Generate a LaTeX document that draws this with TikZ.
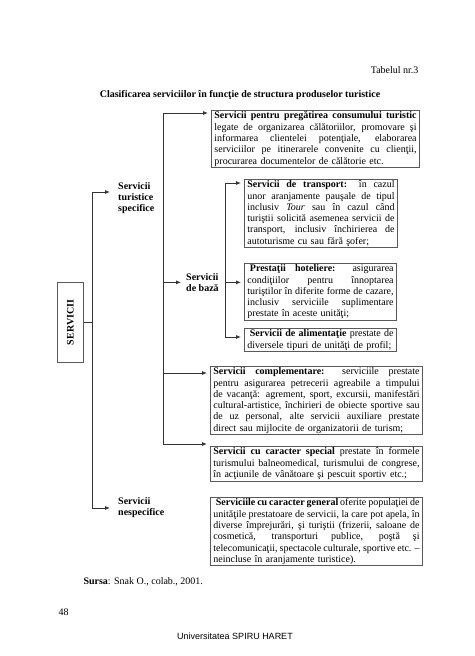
\documentclass[tikz,border=0pt]{standalone}
\usepackage{fontspec}
\setmainfont{Liberation Serif}
\newfontfamily\arialfont{Liberation Sans}
\usetikzlibrary{arrows.meta}
\newcommand\jline[1]{\leavevmode\hbox to\hsize{\spaceskip=0pt\xspaceskip=0pt #1}}
\begin{document}
\begin{tikzpicture}[x=1pt,y=-1pt,
  infobox/.style={draw=black!65, line width=0.85pt, inner xsep=3pt, inner ysep=1.4pt,
    anchor=north west, align=left, text width=#1, font=\fontsize{10}{11.3}\selectfont},
  lbl/.style={font=\fontsize{10}{11.3}\selectfont\bfseries, align=left, anchor=north west, inner sep=1pt},
  conn/.style={draw=black!80, line width=0.85pt},
  arr/.style={conn, -{Latex[length=5pt,width=4pt]}, shorten >=#1},
  arr/.default=3pt]

\useasboundingbox[fill=white] (0,0) rectangle (474,656);

% headings
\node[anchor=base east, font=\fontsize{10}{12}\selectfont] (tab) at (422,73) {Tabelul nr.3};
\node[anchor=base, font=\fontsize{10}{12}\selectfont\bfseries] (title) at (240,97)
  {Clasificarea serviciilor în funcţie de structura produselor turistice};

% root
\node[draw=black!65, line width=0.85pt, anchor=north west, minimum width=26pt, minimum height=80pt, inner sep=0pt] (serv) at (57,282) {};
\node[rotate=90, font=\fontsize{10}{12}\selectfont\bfseries] (servt) at (serv.center) {SERVICII};

% labels
\node[lbl] (spec) at (117,181) {Servicii\\turistice\\specifice};
\node[lbl] (baza) at (185,272) {Servicii\\de bază};
\node[lbl] (nesp) at (117,496) {Servicii\\nespecifice};

% boxes
\node[infobox=202.2pt] (b1) at (211,110) {%
\jline{\textbf{Servicii pentru pregătirea consumului turistic}}\\
\jline{legate de organizarea călătoriilor, promovare şi}\\
\jline{informarea clientelei potenţiale, elaborarea}\\
\jline{serviciilor pe itinerarele convenite cu clienţii,}\\
procurarea documentelor de călătorie etc.};

\node[infobox=147.2pt] (b2) at (244,179) {%
\jline{\textbf{Servicii de transport:} în cazul}\\
\jline{unor aranjamente pauşale de tipul}\\
\jline{inclusiv \textit{Tour} sau în cazul când}\\
\jline{turiştii solicită asemenea servicii de}\\
\jline{transport, inclusiv închirierea de}\\
autoturisme cu sau fără şofer;};

\node[infobox=146.2pt] (b3) at (244,263) {%
\jline{\hspace*{2.5pt}\textbf{Prestaţii hoteliere:} asigurarea}\\
\jline{condiţiilor pentru înnoptarea}\\
\jline{turiştilor în diferite forme de cazare,}\\
\jline{inclusiv serviciile suplimentare}\\
prestate în aceste unităţi;};

\node[infobox=146.2pt] (b4) at (244,328) {%
\jline{\hspace*{2.5pt}\textbf{Servicii de alimentaţie} prestate de}\\
diversele tipuri de unităţi de profil;};

\node[infobox=206.2pt] (b5) at (210,366) {%
\jline{\textbf{Servicii complementare:} serviciile prestate}\\
\jline{pentru asigurarea petrecerii agreabile a timpului}\\
\jline{de vacanţă: agrement, sport, excursii, manifestări}\\
\jline{cultural-artistice, închirieri de obiecte sportive sau}\\
\jline{de uz personal, alte servicii auxiliare prestate}\\
direct sau mijlocite de organizatorii de turism;};

\node[infobox=206.2pt] (b6) at (210,446) {%
\jline{\textbf{Servicii cu caracter special} prestate în formele}\\
\jline{turismului balneomedical, turismului de congrese,}\\
în acţiunile de vânătoare şi pescuit sportiv etc.;};

\node[infobox=206.2pt] (b7) at (210,497) {%
\jline{\hspace*{2.5pt}\textbf{Serviciile cu caracter general} oferite populaţiei de}\\
\jline{unităţile prestatoare de servicii, la care pot apela, în}\\
\jline{diverse împrejurări, şi turiştii (frizerii, saloane de}\\
\jline{cosmetică, transporturi publice, poştă şi}\\
\jline{telecomunicaţii, spectacole culturale, sportive etc. –}\\
neincluse în aranjamente turistice).};

% junction points
\coordinate (t1) at (92,192);
\coordinate (t2) at (92,508);
\coordinate (v2t) at (163,113);
\coordinate (v2c) at (163,373);
\coordinate (v2b) at (163,444);
\coordinate (v3t) at (225,183);
\coordinate (v3b) at (225,337);

% trunk
\draw[conn] (t1) -- (t2);
\draw[conn] (serv.east) -- (serv.east -| t1);
\draw[arr=7pt] (t1) -- (t1 -| spec.west);
\draw[arr=7pt] (t2) -- (t2 -| nesp.west);

% second level
\draw[conn] (v2t) -- (v2b);
\draw[arr] (v2t) -- (v2t -| b1.west);
\draw[arr=4pt] (baza.west -| v2t) -- (baza.west);
\draw[arr] (v2c) -- (v2c -| b5.west);
\draw[arr] (v2b) -- (v2b -| b6.west);

% third level
\draw[conn] (v3t) -- (v3b);
\draw[arr] (v3t) -- (v3t -| b2.west);
\draw[arr] (baza.west -| v3t) -- (baza.west -| b3.west);
\draw[arr] (v3b) -- (v3b -| b4.west);

% footer
\node[anchor=base west, font=\fontsize{10}{11.3}\selectfont] (src) at (80,584) {\textbf{Sursa}: Snak O., colab., 2001.};
\node[anchor=base west, font=\fontsize{10}{11.3}\selectfont] (pg) at (55,615) {48};
\node[anchor=base, font=\arialfont\fontsize{9}{11}\selectfont] (univ) at (235,639) {Universitatea SPIRU HARET};
\end{tikzpicture}
\end{document}
